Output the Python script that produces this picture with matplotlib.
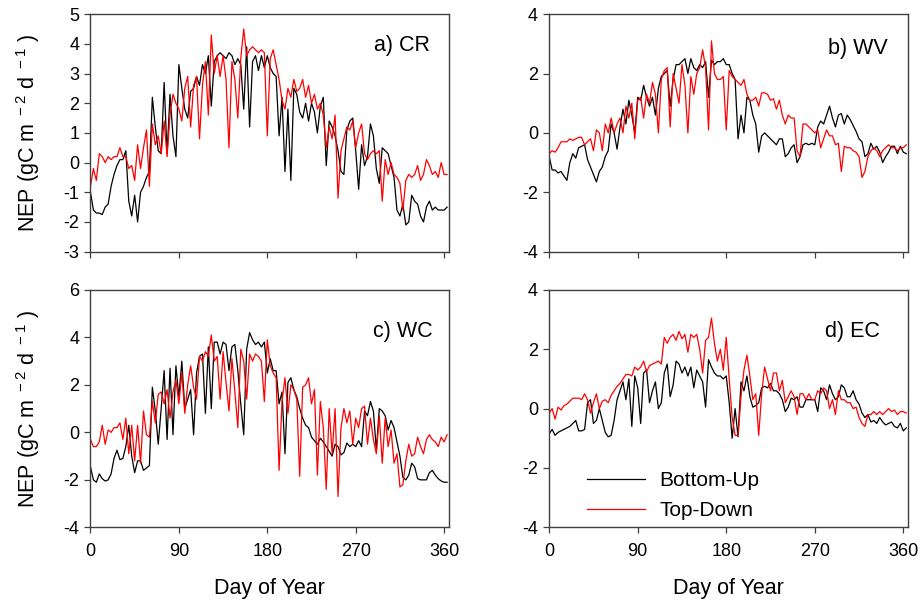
import numpy as np
import matplotlib
matplotlib.use('Agg')
import matplotlib.pyplot as plt

plt.rcParams['font.family'] = ['Liberation Sans', 'DejaVu Sans']
plt.rcParams['mathtext.fontset'] = 'custom'
plt.rcParams['mathtext.rm'] = 'Liberation Sans'
plt.rcParams['mathtext.default'] = 'regular'
plt.rcParams['axes.unicode_minus'] = False

# day of year, read every 3 days
days = list(range(0, 364, 3))

# a) CR
a_bu = [-1.0, -1.6, -1.7, -1.7, -1.75, -1.5, -1.4, -0.8, -0.4, -0.1, 0.1, 0.1, 0.4, -1.3, -1.8, -1.1, -2.0, -1.0, -0.8, -0.5,
        -0.3, 2.2, 1.2, 0.4, 0.3, 2.7, 0.3, 2.3, 0.9, 0.2, 3.3, 2.5, 1.8, 1.5, 2.4, 2.5, 2.9, 2.6, 3.3, 3.0,
        3.6, 1.9, 3.4, 3.6, 3.7, 3.6, 3.5, 3.7, 3.6, 3.3, 3.5, 3.3, 1.8, 3.9, 1.2, 3.4, 3.6, 3.1, 3.6, 3.2,
        3.6, 3.2, 3.0, 2.9, 0.9, 2.2, -0.3, 1.8, -0.6, 2.5, 2.3, 1.7, 1.5, 2.0, 1.4, 2.0, 1.7, 1.0, 1.9, 2.2,
        -0.1, 1.4, 1.2, 0.9, 0.4, -0.3, -0.4, 1.1, 1.4, 1.5, 0.4, -0.9, 0.6, -0.1, 0.2, 1.3, 0.9, -0.2, -0.7, 0.5,
        0.4, 0.3, -0.1, -0.5, -1.6, -1.8, -1.4, -2.1, -2.0, -1.1, -1.3, -1.4, -1.8, -2.0, -1.5, -1.3, -1.6, -1.5, -1.6, -1.6,
        -1.6, -1.5]
a_td = [-0.8, -0.2, -0.6, 0.3, 0.2, 0.0, 0.2, 0.1, 0.2, 0.2, 0.5, 0.2, 0.2, -0.2, -0.1, -0.6, 0.6, -0.2, 0.5, 1.1,
        -0.8, 1.3, 0.6, 0.9, 0.3, 1.4, 0.2, 1.6, 2.3, 2.0, 1.8, 1.4, 2.5, 2.9, 1.2, 2.6, 2.9, 0.8, 2.6, 3.4,
        1.6, 4.3, 3.0, 3.6, 2.9, 3.6, 2.8, 0.5, 3.4, 2.8, 1.5, 3.5, 4.5, 3.6, 3.8, 3.9, 3.8, 3.7, 3.8, 3.7,
        0.9, 3.5, 3.8, 3.3, 2.8, 2.1, 1.8, 2.5, 2.2, 2.8, 2.4, 2.5, 2.8, 2.2, 2.6, 2.0, 2.3, 1.8, 2.0, 1.6,
        0.5, 1.2, 0.8, 1.6, -1.2, 0.4, 0.8, 1.2, 1.1, 1.4, 0.5, 1.0, 1.3, 0.3, 0.1, 0.3, 0.4, 0.3, 0.4, -1.3,
        0.1, -0.4, 0.0, -0.4, -0.5, -0.7, -1.6, -0.6, -0.4, -0.5, -0.4, -0.1, -0.6, -0.4, 0.1, -0.1, -0.4, -0.3, -0.5, 0.0,
        -0.4, -0.4]

# b) WV
b_bu = [-0.8, -1.25, -1.25, -1.35, -1.3, -1.45, -1.6, -1.0, -0.7, -0.85, -0.5, -0.45, -0.4, -0.9, -1.15, -1.4, -1.65, -1.3, -1.15, -0.8,
        -0.6, 0.3, 0.0, -0.55, 0.2, 0.8, 0.3, 1.1, 0.6, 0.0, 1.2, 1.1, 1.6, 1.2, 0.9, 1.2, 0.6, 1.5, 1.9, 2.0,
        2.1, 0.9, 1.8, 2.3, 2.3, 2.4, 2.5, 2.0, 2.5, 2.2, 2.1, 2.3, 2.2, 2.4, 1.2, 2.45, 2.3, 2.4, 2.4, 2.5,
        2.3, 2.3, 2.0, 1.8, -0.2, 0.6, 0.0, 1.2, 1.1, 0.6, 0.3, -0.65, -0.1, 0.0, -0.1, -0.2, -0.3, -0.4, -0.2, -0.2,
        -0.8, -0.7, -0.5, -0.4, -1.0, -0.8, -0.4, -0.35, -0.4, -0.35, -0.4, 0.2, 0.4, 0.3, 0.6, 0.9, 0.5, 0.2, 0.6, 0.65,
        0.3, 0.6, 0.45, 0.25, 0.05, -0.2, -0.3, -0.8, -0.7, -0.35, -0.55, -0.45, -0.65, -1.0, -0.8, -0.65, -0.45, -0.45, -0.7, -0.45,
        -0.65, -0.7]
b_td = [-0.7, -0.6, -0.65, -0.5, -0.3, -0.3, -0.3, -0.2, -0.25, -0.2, -0.15, -0.15, -0.4, -0.3, -0.2, -0.6, 0.1, 0.0, -0.6, 0.3,
        0.0, 0.5, 0.0, 0.3, 0.5, 0.0, 0.9, 0.5, 1.0, -0.2, 1.1, 1.2, 0.5, 1.3, 1.0, 1.7, 1.3, 0.0, 1.8, 2.1,
        2.2, 0.2, 2.0, 1.5, 1.0, 2.3, 1.6, 0.0, 1.9, 1.3, 2.0, 2.2, 2.8, 2.2, 0.1, 3.1, 2.0, 1.8, 1.8, 1.9,
        0.1, 2.1, 1.9, 1.8, 1.7, 1.6, 1.8, 1.3, 1.1, 1.1, 1.2, 0.9, 1.35, 1.35, 1.3, 1.1, 1.15, 0.8, 1.1, 0.6,
        0.3, 0.6, 0.5, 0.5, -0.6, -0.8, 0.3, 0.3, 0.2, 0.1, 0.0, 0.1, -0.5, -0.2, 0.1, -0.1, -0.1, -0.4, -0.35, -1.3,
        -0.45, -0.5, -0.5, -0.6, -0.65, -0.8, -1.5, -1.3, -0.8, -0.6, -0.5, -0.6, -0.8, -0.6, -0.5, -0.4, -0.5, -0.5, -0.6, -0.5,
        -0.5, -0.4]

# c) WC
c_bu = [-1.45, -2.0, -2.1, -1.75, -1.95, -2.05, -2.0, -1.75, -1.1, -0.75, -1.15, -1.1, -0.6, 0.3, -1.0, -1.7, -1.2, -1.2, -1.6, -1.5,
        -1.4, 1.9, 0.9, -0.5, 1.0, 2.6, -0.3, 2.7, -0.1, 2.8, 1.5, 3.0, 1.0, 1.4, 1.8, -0.1, 2.5, 3.2, 3.3, 0.8,
        3.6, 1.0, 3.8, 3.8, 3.3, 3.8, 3.7, 2.6, 3.6, 3.7, 2.6, 1.2, -0.1, 3.5, 4.2, 3.9, 3.7, 3.8, 3.6, 3.8,
        2.5, 3.1, 2.6, 2.6, 1.2, 1.7, -0.9, 2.1, 2.3, 1.8, 1.5, 1.0, 0.6, 0.3, 0.2, -0.2, -0.35, -0.5, -0.25, -0.4,
        -0.6, -0.8, -1.0, -0.5, -0.6, -0.95, -0.85, -0.45, -0.6, -0.5, -0.6, -0.35, -0.6, 0.9, 0.7, 1.3, 0.9, -0.75, 1.0, 0.9,
        0.7, 0.1, 0.5, 0.2, -0.4, -1.0, -1.9, -2.0, -1.8, -1.3, -1.45, -1.95, -2.0, -2.0, -2.0, -1.7, -1.6, -1.8, -1.95, -2.05,
        -2.1, -2.1]
c_td = [-0.3, -0.6, -0.6, -0.4, 0.3, -0.5, 0.1, 0.0, 0.2, 0.2, 0.4, -0.3, 0.6, -0.9, 0.3, -1.2, 0.3, -1.3, 0.9, -0.1,
        -0.2, 1.3, 0.4, 1.6, 1.7, 1.2, 1.8, 0.6, 1.7, 2.2, 1.2, 2.5, 0.8, 2.0, 2.8, 1.9, 1.4, 3.2, 3.0, 3.4,
        3.2, 4.1, 3.0, 3.2, 1.4, 3.4, 2.1, 0.9, 3.1, 1.7, 0.2, 3.5, 3.0, 1.4, 3.3, 3.0, 3.3, 3.2, 3.0, 1.3,
        3.9, 2.8, 2.5, 2.3, -1.6, 1.3, 2.3, 0.8, 2.0, 1.8, 1.4, -1.85, 1.9, 2.0, 2.3, 1.2, 1.8, -1.8, 1.3, 0.2,
        -2.4, 1.0, -0.9, 1.0, -2.7, 0.2, 1.0, 0.4, 0.9, -0.5, 0.6, 0.2, 1.0, 1.1, -0.5, 0.6, -0.3, -0.9, 0.7, -1.3,
        0.6, -0.6, 0.1, -1.3, -0.9, -2.3, -2.2, -1.2, -0.5, -1.0, -0.9, -0.2, -0.6, -0.9, -0.3, -0.1, -0.3, -0.4, -0.6, -0.2,
        -0.4, -0.1]

# d) EC
d_bu = [-0.85, -0.7, -0.9, -0.8, -0.75, -0.7, -0.65, -0.6, -0.5, -0.4, -0.75, -0.75, -0.7, 0.2, 0.3, -0.5, -0.4, 0.0, -0.4, -0.8,
        -0.95, -0.9, -0.4, 0.3, 0.6, 0.9, 0.3, 1.0, -0.6, 1.1, 0.7, -0.5, 1.2, 1.3, 0.2, 0.6, 0.9, 0.0, 0.2, 1.2,
        1.5, 0.4, 0.8, 1.6, 1.5, 1.2, 1.4, 1.1, 1.4, 0.7, 1.3, 1.1, 0.9, 0.05, 1.65, 1.4, 1.2, 1.1, 1.1, 1.0,
        1.1, 0.2, -1.0, 0.0, -0.95, 0.9, 0.6, 1.1, 0.4, 0.05, 0.1, 0.2, 0.7, 0.75, 0.7, 0.85, 0.6, 0.6, 0.5, 0.3,
        -0.1, 0.05, 0.35, 0.3, 0.4, 0.05, 0.05, 0.3, 0.3, 0.3, 0.3, -0.1, 0.7, 0.6, 0.3, 0.8, 0.5, 0.3, 0.4, 0.8,
        0.7, 0.4, 0.4, 0.6, 0.3, 0.15, -0.15, -0.3, -0.2, -0.45, -0.4, -0.5, -0.3, -0.45, -0.55, -0.5, -0.45, -0.6, -0.65, -0.5,
        -0.75, -0.65]
d_td = [-0.15, 0.0, -0.35, 0.05, -0.05, 0.1, 0.15, 0.25, 0.35, 0.35, 0.35, 0.3, 0.5, 0.3, -0.15, 0.2, 0.5, 0.0, 0.25, 0.3,
        0.2, 0.45, 0.6, 0.75, 0.85, 1.0, 1.15, 1.15, 1.1, 1.4, 1.3, 1.4, 1.6, 1.25, 1.45, 1.5, 1.55, 1.6, 1.5, 2.4,
        2.2, 2.4, 2.5, 2.3, 2.6, 2.35, 2.5, 1.9, 2.5, 2.4, 2.5, 2.0, 1.2, 2.3, 2.4, 3.05, 2.2, 1.6, 2.0, 1.3,
        2.4, 1.0, -0.3, -0.9, -0.9, 0.4, 1.3, 1.8, 1.1, 0.3, 0.5, -0.9, 0.5, 1.4, 1.0, 0.6, 1.2, 1.2, 0.6, 0.95,
        0.2, 0.4, 0.6, 0.4, -0.2, 0.5, 0.5, 0.3, 0.5, 0.3, 0.3, 0.6, 0.5, 0.7, 0.6, 0.0, 0.3, -0.2, 0.6, 0.3,
        0.3, 0.2, 0.2, 0.0, 0.05, -0.3, -0.5, -0.6, -0.2, -0.2, -0.1, -0.2, -0.1, -0.2, -0.1, 0.0, -0.1, -0.05, -0.2, -0.1,
        -0.1, -0.15]

panels = [
    ('a) CR', a_bu, a_td, (-3, 5), [-3, -2, -1, 0, 1, 2, 3, 4, 5]),
    ('b) WV', b_bu, b_td, (-4, 4), [-4, -2, 0, 2, 4]),
    ('c) WC', c_bu, c_td, (-4, 6), [-4, -2, 0, 2, 4, 6]),
    ('d) EC', d_bu, d_td, (-4, 4), [-4, -2, 0, 2, 4]),
]
label_pos = [(0.947, 0.87), (0.944, 0.857), (0.955, 0.823), (0.922, 0.826)]
rects = [[0.098, 0.582, 0.3885, 0.3945], [0.595, 0.582, 0.389, 0.3945],
         [0.098, 0.124, 0.3885, 0.3945], [0.595, 0.124, 0.389, 0.3945]]

fig = plt.figure(figsize=(9.23, 6.02), dpi=100)
for i, (name, bu, td, ylim, yticks) in enumerate(panels):
    ax = fig.add_axes(rects[i])
    ax.plot(days, bu, color='black', lw=0.9, label='Bottom-Up')
    ax.plot(days, td, color='#ff0000', lw=0.9, label='Top-Down')
    ax.set_xlim(0, 365)
    ax.set_ylim(*ylim)
    ax.set_xticks([0, 90, 180, 270, 360])
    ax.set_yticks(yticks)
    ax.tick_params(direction='out', length=4, width=0.9, color='#404040', labelsize=13, pad=4)
    ax.tick_params(axis='x', pad=7)
    for s in ax.spines.values():
        s.set_color('#404040')
        s.set_linewidth(1.0)
    ax.text(label_pos[i][0], label_pos[i][1], name, transform=ax.transAxes,
            ha='right', va='center', fontsize=15.5)
    if i < 2:
        ax.set_xticklabels([])
    else:
        ax.set_xlabel('Day of Year', fontsize=15.5)
        ax.xaxis.set_label_coords(0.5, -0.215)
    if i % 2 == 0:
        ax.set_ylabel(r'NEP (gC m$^{\ -2}$ d$^{\ -1}$ )', fontsize=15.5)
        ax.yaxis.set_label_coords(-0.135, 0.5)
    if i == 3:
        ax.legend(loc='lower left', bbox_to_anchor=(0.052, -0.05), frameon=False,
                  handlelength=2.8, handletextpad=0.7, labelspacing=0.55, fontsize=15)

fig.savefig('out.png', dpi=100)
